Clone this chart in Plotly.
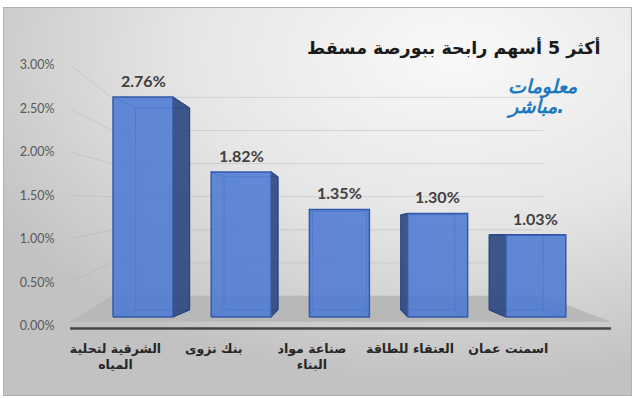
import base64
import plotly.graph_objects as go

# ---------------- data ----------------
categories = ["الشرقية لتحلية<br>المياه", "بنك نزوى", "صناعة مواد<br>البناء", "العنقاء للطاقة", "اسمنت عمان"]
values = [2.76, 1.82, 1.35, 1.30, 1.03]
value_labels = ["2.76%", "1.82%", "1.35%", "1.30%", "1.03%"]
y_ticks = [0.0, 0.5, 1.0, 1.5, 2.0, 2.5, 3.0]
y_tick_labels = ["0.00%", "0.50%", "1.00%", "1.50%", "2.00%", "2.50%", "3.00%"]
title_text = "أكثر 5 أسهم رابحة ببورصة مسقط"
logo_lines = ["معلومات", "مباشر."]

# ---------------- layout geometry ----------------
W, H = 640, 399
ML = 62                      # left margin for the value axis labels
X_RANGE = [-0.8248, 5.0611]  # category index units
Y_RANGE = [-1.0289, 3.9774]  # value units (front plane of the bars)

# pseudo-3D projection parameters (data units)
VPX = 2.0                    # horizontal vanishing point (index)
VPV = 1.079                  # vertical vanishing point (value)
BACK_SX, BACK_SY = 0.90, 0.918
BAR_HALF = 0.3055
WALL_A, WALL_B = 0.2635, 0.8306      # back wall: v' = A + B v
FRONT_A, FRONT_B = -0.113, 1.0916    # front plane: v' = A + B v
WALL_X = (-0.316, 4.073)
FRONT_X = (-0.743, 4.766)
FLOOR_FRONT = -0.06
BASE_LINE = -0.144
LABEL_DX = -0.28


def wall(v):
    return WALL_A + WALL_B * v


def front(v):
    return FRONT_A + FRONT_B * v


def back_x(x):
    return VPX + BACK_SX * (x - VPX)


def back_v(v):
    return VPV + BACK_SY * (v - VPV)


def px2paper_x(px):
    return (px - ML) / (W - ML)


def py2paper_y(py):
    return 1 - py / H


fig = go.Figure()

# ---- gridlines (side wall + back wall) ----
gx, gy = [], []
for t in y_ticks:
    gx += [FRONT_X[0], WALL_X[0], WALL_X[1], None]
    gy += [front(t), wall(t), wall(t), None]
fig.add_trace(go.Scatter(x=gx, y=gy, mode="lines",
                         line=dict(color="rgba(170,170,170,0.38)", width=1),
                         hoverinfo="skip", showlegend=False))

# ---- floor ----
fig.add_trace(go.Scatter(
    x=[FRONT_X[0], FRONT_X[1], WALL_X[1], WALL_X[0], FRONT_X[0]],
    y=[FLOOR_FRONT, FLOOR_FRONT, wall(0), wall(0), FLOOR_FRONT],
    mode="lines", fill="toself", fillcolor="rgb(184,184,184)",
    line=dict(width=0), hoverinfo="skip", showlegend=False))
fig.add_trace(go.Scatter(x=[FRONT_X[0], FRONT_X[1]], y=[BASE_LINE, BASE_LINE], mode="lines",
                         line=dict(color="rgb(70,70,70)", width=2.5),
                         hoverinfo="skip", showlegend=False))

# ---- bars ----
for i, v in enumerate(values):
    xl, xr = i - BAR_HALF, i + BAR_HALF
    bxl, bxr = back_x(xl), back_x(xr)
    bb, bt = back_v(0), back_v(v)
    # hidden back edges (seen through the transparent bar)
    ex = [bxl, bxr, bxr, bxl, bxl, None, xl, bxl, None, xr, bxr, None, xl, bxl, None, xr, bxr]
    ey = [bb, bb, bt, bt, bb, None, 0, bb, None, 0, bb, None, v, bt, None, v, bt]
    fig.add_trace(go.Scatter(x=ex, y=ey, mode="lines",
                             line=dict(color="rgba(55,95,175,0.75)", width=1),
                             hoverinfo="skip", showlegend=False))
    # side face
    if i < VPX - 0.5:
        sx = [xr, xr, bxr, bxr, xr]
        sy = [0, v, bt, bb, 0]
    elif i > VPX + 0.5:
        sx = [xl, xl, bxl, bxl, xl]
        sy = [0, v, bt, bb, 0]
    else:
        sx, sy = None, None
    if sx:
        fig.add_trace(go.Scatter(x=sx, y=sy, mode="lines", fill="toself",
                                 fillcolor="rgba(46,74,130,0.92)",
                                 line=dict(color="rgb(40,66,120)", width=1),
                                 hoverinfo="skip", showlegend=False))
    if bt > v:
        fig.add_trace(go.Scatter(x=[xl, xr, bxr, bxl, xl], y=[v, v, bt, bt, v], mode="lines",
                                 fill="toself", fillcolor="rgba(55,90,160,0.92)",
                                 line=dict(color="rgb(45,75,140)", width=1),
                                 hoverinfo="skip", showlegend=False))
    # front face
    fig.add_trace(go.Scatter(x=[xl, xr, xr, xl, xl], y=[0, 0, v, v, 0], mode="lines",
                             fill="toself", fillcolor="rgba(76,122,210,0.87)",
                             line=dict(color="rgb(52,90,170)", width=1.5),
                             hoverinfo="skip", showlegend=False))
    fig.add_annotation(x=i, y=v, text="<b>" + value_labels[i] + "</b>", showarrow=False,
                       yanchor="bottom", yshift=5,
                       font=dict(family="Lato", size=16, color="#3f3f3f"))

# ---- title & logo ----
fig.add_annotation(xref="paper", yref="paper", x=px2paper_x(602), y=py2paper_y(48),
                   xanchor="right", yanchor="middle", showarrow=False, text="<b>" + title_text + "</b>",
                   font=dict(family="DejaVu Sans", size=17.5, color="#1a1a1a"))
fig.add_annotation(xref="paper", yref="paper", x=px2paper_x(580), y=py2paper_y(86),
                   xanchor="right", yanchor="middle", showarrow=False,
                   text="<b><i>" + logo_lines[0] + "</i></b>",
                   font=dict(family="DejaVu Sans", size=19, color="#1c78bf"))
fig.add_annotation(xref="paper", yref="paper", x=px2paper_x(566), y=py2paper_y(106),
                   xanchor="right", yanchor="middle", showarrow=False,
                   text="<b><i>" + logo_lines[1] + "</i></b>",
                   font=dict(family="DejaVu Sans", size=19, color="#1c78bf"))

# ---- gradient background ----
svg = ('<svg xmlns="http://www.w3.org/2000/svg" width="640" height="399">'
       '<defs><radialGradient id="g" cx="0.72" cy="0.12" r="0.85">'
       '<stop offset="0" stop-color="#f9f9f9"/><stop offset="0.5" stop-color="#e6e6e6"/>'
       '<stop offset="1" stop-color="#c2c2c2"/></radialGradient></defs>'
       '<rect x="0" y="0" width="640" height="399" fill="#ffffff"/>'
       '<rect x="3.5" y="7.5" width="628" height="388" fill="url(#g)" stroke="#b0b0b0" stroke-width="1"/>'
       '</svg>')
src = "data:image/svg+xml;base64," + base64.b64encode(svg.encode()).decode()
fig.add_layout_image(dict(source=src, xref="paper", yref="paper",
                          x=-ML / (W - ML), y=1, sizex=W / (W - ML), sizey=1,
                          xanchor="left", yanchor="top", sizing="stretch", layer="below"))

fig.update_layout(
    width=W, height=H,
    margin=dict(l=ML, r=0, t=0, b=0, autoexpand=False),
    paper_bgcolor="white", plot_bgcolor="rgba(0,0,0,0)",
    showlegend=False,
    xaxis=dict(range=X_RANGE, showgrid=False, zeroline=False, showline=False, automargin=False,
               anchor="free", position=py2paper_y(339),
               tickvals=[i + LABEL_DX for i in range(len(categories))],
               ticktext=["<b>" + c.replace("<br>", "</b><br><b>") + "</b>" for c in categories],
               ticks="", tickfont=dict(family="DejaVu Sans", size=12.5, color="#262626")),
    yaxis=dict(range=Y_RANGE, showgrid=False, zeroline=False, showline=False, automargin=False,
               tickvals=[front(t) for t in y_ticks], ticktext=y_tick_labels,
               ticks="outside", ticklen=4, tickcolor="rgba(0,0,0,0)",
               tickfont=dict(family="Lato", size=12.5, color="#595959")),
)

fig.write_html("out.html", config={"displayModeBar": False},
               post_script="document.body.style.margin='0';document.body.style.overflow='hidden';")
